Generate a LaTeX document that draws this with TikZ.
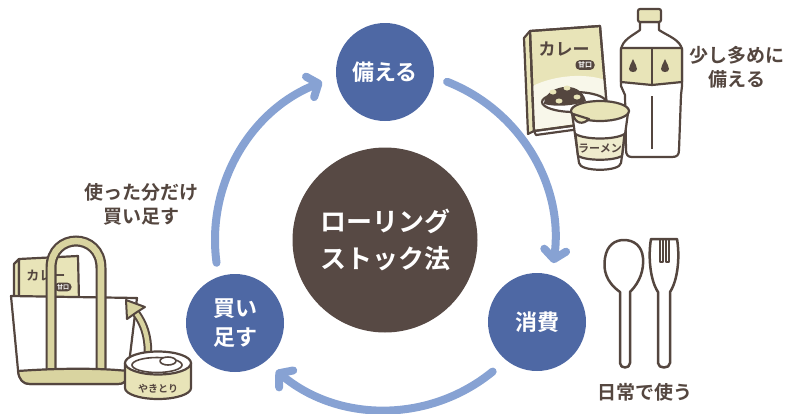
\documentclass[tikz,border=0pt]{standalone}
\usepackage{fontspec}
\newfontfamily\jp{Noto Sans CJK JP}[BoldFont={Noto Sans CJK JP Bold}]
\usetikzlibrary{arrows.meta}

\definecolor{stepblue}{HTML}{4E68A4}
\definecolor{flowblue}{HTML}{87A2D3}
\definecolor{corebrown}{HTML}{574944}
\definecolor{ink}{HTML}{54463F}
\definecolor{khaki}{HTML}{E8E4B8}
\definecolor{khakidk}{HTML}{D9D4A0}
\definecolor{cream}{HTML}{F8F7EA}

\tikzset{
  stepnode/.style={circle, fill=stepblue, minimum size=98pt, inner sep=0pt,
    text=white, align=center, font=\jp\bfseries\fontsize{22}{29}\selectfont},
  corenode/.style={circle, fill=corebrown, minimum size=185pt, inner sep=0pt,
    text=white, align=center, font=\jp\bfseries\fontsize{26}{37}\selectfont},
  flow/.style={draw=flowblue, line width=8pt, line cap=round,
    -{Straight Barb[length=9pt, width=22pt, round]}},
  note/.style={text=ink, align=center, font=\jp\bfseries\fontsize{19}{24}\selectfont},
  art/.style={draw=ink, line width=2.2pt, line join=round},
  tag/.style={text=ink, inner sep=0pt, font=\jp\bfseries\fontsize{#1}{#1}\selectfont},
  pill/.style={fill=ink, rounded corners=4pt, text=white, inner xsep=2.5pt, inner ysep=1.5pt,
    font=\jp\bfseries\fontsize{#1}{#1}\selectfont},
}

\begin{document}
\begin{tikzpicture}[x=1pt, y=-1pt]
\useasboundingbox (0,0) rectangle (793,413);

% ---- cycle ----
\node[corenode] (core) at (385,240) {ローリング\\ストック法};
\node[stepnode] (prep) at (385,72) {備える};
\node[stepnode] (use)  at (537,322) {消費};
\node[stepnode] (buy)  at (235,323) {買い\\足す};

\draw[flow] ([shift={(-68.6:170)}]core.center) arc[start angle=-68.6, end angle=7.8, radius=170];
\draw[flow] ([shift={(50.7:170)}]core.center) arc[start angle=50.7, end angle=129.8, radius=170];
\draw[flow] ([shift={(172.3:170)}]core.center) arc[start angle=172.3, end angle=248.3, radius=170];

% ---- captions ----
\node[note] (prepnote) at (737,67)  {少し多めに\\備える};
\node[note] (buynote)  at (141,204) {使った分だけ\\買い足す};
\node[note] (usenote)  at (645,392) {日常で使う};

% ---- curry box ----
\filldraw[art, fill=khaki] (524,38) -- (530,31) -- (534,131) -- (528,134) -- cycle;
\filldraw[art, fill=khaki] (530,31) -- (600,26) -- (608,121) -- (534,131) -- cycle;
\fill[cream] (532.6,86) .. controls (555,75) and (585,73) .. (605.3,80) -- (607,119.5) -- (535,129.5) -- cycle;
\draw[art] (530,31) -- (600,26) -- (608,121) -- (534,131) -- cycle;
\draw[art] (534,131) -- (536,135) -- (609,125) -- (608,121);
\filldraw[art, fill=white] (574,102) ellipse[x radius=32, y radius=10];
\fill[ink] (544,104) .. controls (544,86) and (580,78) .. (586,101) .. controls (575,106) and (555,107) .. (544,104) -- cycle;
\foreach \p in {(553,92),(567,88),(577,97),(559,101)}
  \fill[khaki] \p ellipse[x radius=3.5, y radius=2.5];
\node[tag=17] (curryname) at (564,49) {カレー};
\node[pill=7] (mild) at (585,65) {甘口};

% ---- water bottle ----
\filldraw[art, fill=white] (640,22) -- (640,30) .. controls (632,36) and (622,40) .. (621,50)
  -- (621,86) -- (625,95) -- (626,150) .. controls (626,155) and (628,157) .. (632,157)
  -- (672,157) .. controls (677,157) and (679,155) .. (679,150) -- (681,95) -- (682,86)
  -- (682,50) .. controls (681,40) and (668,36) .. (659,30) -- (659,22) -- cycle;
\filldraw[art, fill=khaki] (621,48) -- (682,48) -- (682,82) -- (652,85) -- (621,82) -- cycle;
\draw[art] (652,48) -- (652,85);
\draw[art] (652,96) -- (652,149);
\filldraw[art, fill=khaki, rounded corners=2pt] (638,9) rectangle (661,22);
\foreach \dx in {633,665}
  \fill[ink] (\dx,59) .. controls (\dx-2,64) and (\dx-4,66) .. (\dx-4,69)
    .. controls (\dx-4,73) and (\dx+4,73) .. (\dx+4,69)
    .. controls (\dx+4,66) and (\dx+2,64) .. (\dx,59) -- cycle;

% ---- cup noodle ----
\filldraw[art, fill=white] (572,113) -- (579,163) .. controls (580,172) and (620,172) .. (621,163) -- (628,113) -- cycle;
\filldraw[art, fill=khaki!70] (575.5,134) .. controls (585,140) and (615,140) .. (624.5,134)
  -- (622,156) .. controls (613,161) and (587,161) .. (578,156) -- cycle;
\node[tag=11] (ramen) at (600,148) {ラーメン};
\filldraw[art, fill=khaki] (600,111) ellipse[x radius=29, y radius=10];
\filldraw[art, fill=khaki] (573,114) .. controls (575,124) and (583,125) .. (589,119) -- cycle;

% ---- spoon and fork ----
\filldraw[art, fill=white, line width=2.5pt] (620,292) .. controls (606,282) and (603,270) .. (605,258)
  .. controls (607,245) and (615,240) .. (624,240) .. controls (634,240) and (642,246) .. (643,258)
  .. controls (644,270) and (640,282) .. (630,292) -- (630,363)
  .. controls (630,369) and (620,369) .. (620,363) -- cycle;
\filldraw[art, fill=white, line width=2.5pt] (651,239) .. controls (648,256) and (650,280) .. (658,292)
  -- (658,363) .. controls (658,369) and (670,369) .. (670,363) -- (670,292)
  .. controls (678,280) and (680,256) .. (677,239) -- cycle;
\draw[art, line width=2pt] (659.5,239) -- (659.5,262) -- (662.5,262) -- (662.5,239);
\draw[art, line width=2pt] (665.5,239) -- (665.5,262) -- (668.5,262) -- (668.5,239);

% ---- tote bag ----
\filldraw[art, fill=khaki] (14,264) -- (19,259) -- (19,300) -- (14,300) -- cycle;
\filldraw[art, fill=khaki] (19,259) -- (78,256) -- (79,300) -- (19,300) -- cycle;
\node[tag=13] (bagcurry) at (46,276) {カレー};
\node[pill=6] (bagmild) at (63,287) {甘口};
\filldraw[art, fill=white] (11,296) -- (137,298) -- (128,372) .. controls (127,380) and (124,384) .. (118,384)
  -- (30,384) .. controls (22,384) and (19,378) .. (18,370) -- cycle;
\draw[ink, line width=11pt] (51,373) -- (51,268) .. controls (51,232) and (101,232) .. (101,268) -- (101,373);
\draw[khakidk, line width=6.6pt] (51,373) -- (51,268) .. controls (51,232) and (101,232) .. (101,268) -- (101,373);
\filldraw[art, fill=khakidk] (18,371) .. controls (60,368) and (100,368) .. (128,371)
  -- (127.6,376) .. controls (126,382) and (123,384) .. (118,384) -- (30,384)
  .. controls (23,384) and (19,380) .. (18,371) -- cycle;

% ---- curved arrow into the bag ----
\draw[ink, line width=8.5pt] (148,352) .. controls (148,336) and (144,324) .. (136,313);
\draw[khakidk, line width=4.5pt] (148,353) .. controls (148,336) and (144,324) .. (136,313);
\filldraw[art, fill=khakidk, line width=2pt] (126,300) -- (145,307) -- (137,312) -- (127,319) -- cycle;

% ---- tin can ----
\filldraw[art, fill=khaki] (125,363) -- (125,388) arc[start angle=180, end angle=0, x radius=33, y radius=11]
  -- (191,363) -- cycle;
\filldraw[art, fill=white] (158,363) ellipse[x radius=33, y radius=11.5];
\draw[art, line width=1.6pt] (157,365) ellipse[x radius=25, y radius=7.5];
\filldraw[art, fill=white, line width=1.6pt] (168,361) ellipse[x radius=8, y radius=4];
\node[tag=10] (yakitori) at (158,389) {やきとり};
\end{tikzpicture}
\end{document}
